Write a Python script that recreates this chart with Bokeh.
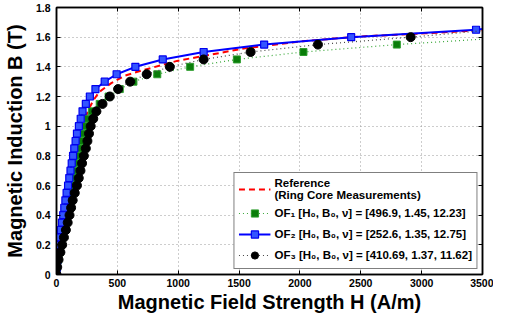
from bokeh.plotting import figure
from bokeh.models import LinearAxis, FixedTicker, NumeralTickFormatter, Legend
from bokeh.embed import file_html
from bokeh.resources import INLINE

# ---------------- data ----------------
B_LEVELS = [0.00, 0.05, 0.10, 0.15, 0.20, 0.25, 0.30, 0.35, 0.40, 0.45,
            0.50, 0.55, 0.60, 0.65, 0.70, 0.75, 0.80, 0.85, 0.90, 0.95,
            1.00, 1.05, 1.10, 1.15, 1.20, 1.25, 1.30, 1.35, 1.40, 1.45,
            1.50, 1.55, 1.60, 1.65]

# OF1 (green squares) H at B = 0 ... 1.55
H_OF1 = [0, 5, 14, 26, 38, 50, 63, 76, 89, 102,
         115, 132, 147, 158, 166, 174, 183, 192, 200, 213,
         232, 258, 290, 355, 428, 520, 632, 828, 1098, 1482,
         2029, 2796]
# OF2 (blue squares) H at B = 0 ... 1.65
H_OF2 = [0, 4, 9, 15, 21, 28, 36, 45, 55, 64,
         73, 83, 95, 105, 115, 125, 136, 146, 157, 168,
         184, 199, 214, 241, 274, 320, 396, 494, 648, 873,
         1209, 1706, 2421, 3447]
# OF3 (black circles) H at B = 0 ... 1.60
H_OF3 = [0, 6, 17, 32, 47, 61, 77, 92, 107, 120,
         133, 150, 168, 183, 197, 210, 225, 241, 254, 267,
         281, 302, 328, 378, 438, 506, 605, 741, 931, 1209,
         1595, 2148, 2910]

# curve end values at H = 3500
H_END = 3500
B_END_OF1 = 1.587
B_END_OF2 = 1.655
B_END_OF3 = 1.643

# Reference (ring core measurements)
H_REF = [0, 20, 45, 70, 92, 108, 122, 140, 160, 185, 220, 256, 300, 350,
         450, 560, 700, 990, 1548, 2024, 2500, 3029, 3500]
B_REF = [0.0, 0.10, 0.20, 0.30, 0.40, 0.50, 0.58, 0.70, 0.80, 0.89, 0.994,
         1.10, 1.17, 1.23, 1.29, 1.34, 1.375, 1.44, 1.525, 1.573, 1.605,
         1.626, 1.647]

X_TICKS = [0, 500, 1000, 1500, 2000, 2500, 3000, 3500]
Y_TICKS = [0, 0.2, 0.4, 0.6, 0.8, 1, 1.2, 1.4, 1.6, 1.8]

LABEL_REF = "Reference\n(Ring Core Measurements)"
LABEL_OF1 = "OF\u2081 [H\u2080, B\u2080, \u03bd] = [496.9, 1.45, 12.23]"
LABEL_OF2 = "OF\u2082 [H\u2080, B\u2080, \u03bd] = [252.6, 1.35, 12.75]"
LABEL_OF3 = "OF\u2083 [H\u2080, B\u2080, \u03bd] = [410.69, 1.37, 11.62]"

# ---------------- figure ----------------
FONT = "Liberation Sans"

p = figure(width=493, height=315, x_range=(0, 3500), y_range=(0, 1.8),
           output_backend="svg", toolbar_location=None,
           min_border_left=54, min_border_right=11, min_border_top=7,
           min_border_bottom=35)
p.background_fill_color = "white"
p.border_fill_color = "white"
p.outline_line_color = "black"
p.outline_line_width = 1.5
p.outline_line_alpha = 1.0

B_OF1 = B_LEVELS[:len(H_OF1)]
B_OF2 = B_LEVELS[:len(H_OF2)]
B_OF3 = B_LEVELS[:len(H_OF3)]

r_ref = p.line(H_REF, B_REF, line_color="#ff0000", line_width=2, line_dash="6 4")

l1 = p.line(H_OF1 + [H_END], B_OF1 + [B_END_OF1], line_color="#3aa83a",
            line_width=1.2, line_dash="1 3")
s1 = p.scatter(H_OF1, B_OF1, marker="square", size=7, fill_color="#0a7d0a",
               line_color="#2e9e2e", line_width=1)

l2 = p.line(H_OF2 + [H_END], B_OF2 + [B_END_OF2], line_color="#0000ff", line_width=2)
s2 = p.scatter(H_OF2, B_OF2, marker="square", size=7, fill_color="#3355ff",
               line_color="#0000ee", line_width=1.2)

l3 = p.line(H_OF3 + [H_END], B_OF3 + [B_END_OF3], line_color="#444444",
            line_width=1.2, line_dash="1 3")
s3 = p.scatter(H_OF3, B_OF3, marker="circle", size=9, fill_color="black",
               line_color="black")

# axes
for ax in (p.xaxis[0], p.yaxis[0]):
    ax.axis_line_width = 1.5
    ax.axis_line_color = "black"
    ax.major_tick_in = 4
    ax.major_tick_out = 0
    ax.minor_tick_in = 0
    ax.minor_tick_out = 0
    ax.major_tick_line_width = 1
    ax.major_label_text_font = FONT
    ax.major_label_text_font_style = "bold"
    ax.major_label_text_font_size = "10.5px"
    ax.major_label_text_color = "black"
    ax.axis_label_text_font = FONT
    ax.axis_label_text_font_style = "bold"
    ax.axis_label_text_font_size = "20px"
    ax.axis_label_text_color = "black"

p.xaxis[0].major_label_standoff = 4
p.yaxis[0].major_label_standoff = 6
p.xaxis[0].ticker = FixedTicker(ticks=X_TICKS)
p.yaxis[0].ticker = FixedTicker(ticks=Y_TICKS)
p.yaxis[0].formatter = NumeralTickFormatter(format="0.[0]")
p.xaxis[0].axis_label = "Magnetic Field Strength H (A/m)"
p.yaxis[0].axis_label = "Magnetic Induction B (T)"
p.xaxis[0].axis_label_standoff = 1
p.yaxis[0].axis_label_standoff = 7

# top / right axes with ticks only
top = LinearAxis(ticker=FixedTicker(ticks=X_TICKS), major_tick_in=4, major_tick_out=0,
                 minor_tick_in=0, minor_tick_out=0, major_label_text_alpha=0,
                 major_label_text_font_size="1px", major_label_standoff=0,
                 axis_line_width=1.5)
right = LinearAxis(ticker=FixedTicker(ticks=Y_TICKS), major_tick_in=4, major_tick_out=0,
                   minor_tick_in=0, minor_tick_out=0, major_label_text_alpha=0,
                   major_label_text_font_size="1px", major_label_standoff=0,
                   axis_line_width=1.5)
p.add_layout(top, "above")
p.add_layout(right, "right")

# grid
for g in (p.xgrid[0], p.ygrid[0]):
    g.grid_line_color = "#9a9a9a"
    g.grid_line_dash = "1 3"
    g.grid_line_width = 1
p.xgrid[0].ticker = FixedTicker(ticks=X_TICKS)
p.ygrid[0].ticker = FixedTicker(ticks=Y_TICKS)

legend = Legend(items=[
    (LABEL_REF, [r_ref]),
    (LABEL_OF1, [l1, s1]),
    (LABEL_OF2, [l2, s2]),
    (LABEL_OF3, [l3, s3]),
], location="bottom_right")
legend.margin = 5
legend.padding = 4
legend.spacing = 3
legend.glyph_width = 32
legend.glyph_height = 18
legend.label_height = 18
legend.label_standoff = 4
legend.label_text_font = FONT
legend.label_text_font_style = "bold"
legend.label_text_font_size = "11.5px"
legend.label_text_color = "black"
legend.border_line_color = "black"
legend.border_line_width = 1.2
legend.background_fill_alpha = 1
p.add_layout(legend, "center")

open("out.html", "w").write(file_html(p, INLINE))
